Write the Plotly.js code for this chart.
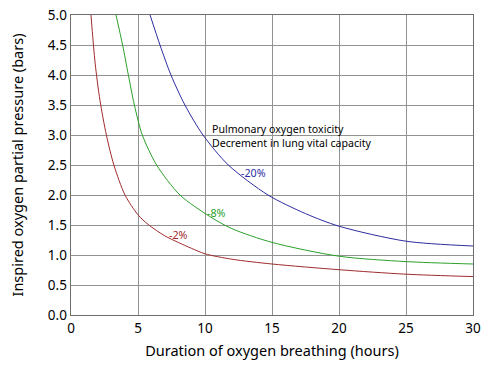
<!DOCTYPE html>
<html><head><meta charset="utf-8">
<script src="https://cdn.plot.ly/plotly-3.0.1.min.js"></script>
<style>html,body{margin:0;padding:0;background:#fff}#c{width:500px;height:374px}</style>
</head><body><div id="c"></div>
<script>
// Duration (hours) and inspired O2 partial pressure (bars) for each decrement curve
const hours2 = [1.49, 1.8, 2.16, 2.64, 3.2, 4.03, 5, 5.75, 7, 8, 9, 10, 12, 15, 20, 25, 30];
const bars2  = [5.0, 4.2, 3.58, 3.0, 2.5, 2.0, 1.67, 1.51, 1.32, 1.21, 1.11, 1.02, 0.93, 0.85, 0.755, 0.68, 0.64];

const hours8 = [3.36, 3.85, 4.28, 4.73, 5.32, 6.39, 8.13, 10.37, 12, 15, 20, 25, 30];
const bars8  = [5.0, 4.5, 4.0, 3.5, 3.0, 2.5, 2.0, 1.64, 1.44, 1.21, 0.98, 0.89, 0.85];

const hours20 = [5.9, 6.64, 7.46, 8.5, 9.85, 11.74, 14.7, 17.5, 20, 25, 30];
const bars20  = [5.0, 4.5, 4.0, 3.5, 3.0, 2.5, 2.0, 1.69, 1.48, 1.23, 1.15];

const xTicks = [0, 5, 10, 15, 20, 25, 30];
const yTicks = [0, 0.5, 1, 1.5, 2, 2.5, 3, 3.5, 4, 4.5, 5];

const curveLabels = ['-2%', '-8%', '-20%'];
const labelX = [8.02, 10.85, 13.6];
const labelY = [1.33, 1.70, 2.37];
const colors = ['#a02c2c', '#2ca02c', '#2c2ca0'];

const traces = [
  {x: hours2, y: bars2, mode: 'lines', line: {color: colors[0], width: 1, shape: 'spline', smoothing: 0.8}},
  {x: hours8, y: bars8, mode: 'lines', line: {color: colors[1], width: 1, shape: 'spline', smoothing: 0.8}},
  {x: hours20, y: bars20, mode: 'lines', line: {color: colors[2], width: 1, shape: 'spline', smoothing: 0.8}}
];

const annotations = curveLabels.map((t, i) => ({
  x: labelX[i], y: labelY[i], text: t, showarrow: false, xref: 'x', yref: 'y',
  font: {color: colors[i], size: 10.7}, xanchor: 'center', yanchor: 'middle'
}));
annotations.push({
  x: 10.4, y: 2.98, xref: 'x', yref: 'y', showarrow: false, align: 'left',
  xanchor: 'left', yanchor: 'middle',
  text: 'Pulmonary oxygen toxicity<br>Decrement in lung vital capacity',
  font: {color: '#000', size: 10.6}
});

const layout = {
  width: 500, height: 374,
  margin: {l: 71, r: 27, t: 15, b: 59},
  paper_bgcolor: '#fff', plot_bgcolor: '#fff',
  showlegend: false,
  font: {family: 'Noto Sans, Open Sans, sans-serif', color: '#000', size: 13.5},
  xaxis: {
    range: [0, 30], tickvals: xTicks, ticktext: xTicks.map(String),
    showgrid: true, gridcolor: '#929292', gridwidth: 1,
    showline: true, linecolor: '#6e6e6e', linewidth: 1.4, mirror: true,
    ticks: '', zeroline: false,
    title: {text: 'Duration of oxygen breathing (hours)', font: {size: 14.5}, standoff: 10}
  },
  yaxis: {
    range: [0, 5], tickvals: yTicks, ticktext: yTicks.map(v => v.toFixed(1)),
    showgrid: true, gridcolor: '#929292', gridwidth: 1,
    showline: true, linecolor: '#6e6e6e', linewidth: 1.4, mirror: true,
    ticks: '', zeroline: false,
    title: {text: 'Inspired oxygen partial pressure (bars)', font: {size: 14.5}, standoff: 20}
  },
  annotations: annotations
};

Plotly.newPlot('c', traces, layout, {displayModeBar: false, staticPlot: true});
</script>
</body></html>
